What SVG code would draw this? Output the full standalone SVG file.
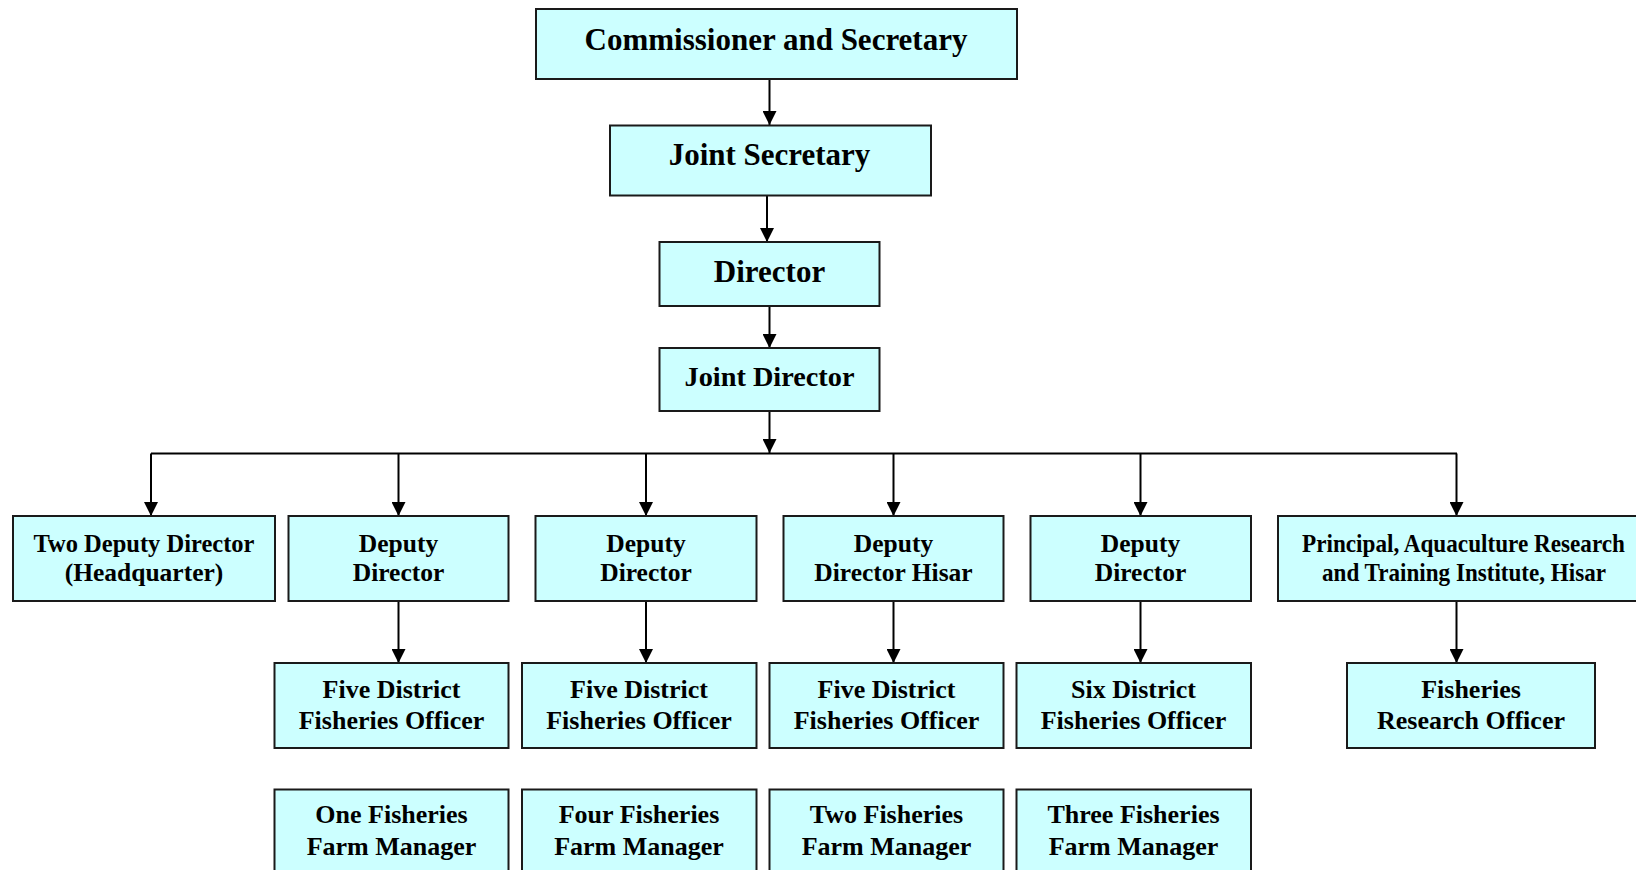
<svg xmlns="http://www.w3.org/2000/svg" width="1636" height="870" viewBox="0 0 1636 870">
<style>
.box{fill:#CCFFFF;stroke:#1a1a1a;stroke-width:2}
.t{font-family:"Liberation Serif","Times New Roman",serif;font-weight:bold;fill:#000;text-anchor:middle}
.c{fill:none;stroke:#000;stroke-width:2}
</style>
<defs>
<marker id="ah" markerUnits="userSpaceOnUse" markerWidth="14" markerHeight="14" refX="14" refY="7" orient="auto">
<path d="M0,0 L14,7 L0,14 z" fill="#000"/>
</marker>
</defs>
<rect width="1636" height="870" fill="#fff"/>
<g id="connectors">
<line class="c" x1="769.5" y1="79" x2="769.5" y2="125" marker-end="url(#ah)"/>
<line class="c" x1="767" y1="196" x2="767" y2="242" marker-end="url(#ah)"/>
<line class="c" x1="769.5" y1="306" x2="769.5" y2="348" marker-end="url(#ah)"/>
<line class="c" x1="769.5" y1="411" x2="769.5" y2="453" marker-end="url(#ah)"/>
<line class="c" x1="151" y1="453.5" x2="1457" y2="453.5"/>
<line class="c" x1="151" y1="453.5" x2="151" y2="516" marker-end="url(#ah)"/>
<line class="c" x1="398.5" y1="453.5" x2="398.5" y2="516" marker-end="url(#ah)"/>
<line class="c" x1="646" y1="453.5" x2="646" y2="516" marker-end="url(#ah)"/>
<line class="c" x1="893.5" y1="453.5" x2="893.5" y2="516" marker-end="url(#ah)"/>
<line class="c" x1="1140.5" y1="453.5" x2="1140.5" y2="516" marker-end="url(#ah)"/>
<line class="c" x1="1456.5" y1="453.5" x2="1456.5" y2="516" marker-end="url(#ah)"/>
<line class="c" x1="398.5" y1="601" x2="398.5" y2="663" marker-end="url(#ah)"/>
<line class="c" x1="646" y1="601" x2="646" y2="663" marker-end="url(#ah)"/>
<line class="c" x1="893.5" y1="601" x2="893.5" y2="663" marker-end="url(#ah)"/>
<line class="c" x1="1140.5" y1="601" x2="1140.5" y2="663" marker-end="url(#ah)"/>
<line class="c" x1="1456.5" y1="601" x2="1456.5" y2="663" marker-end="url(#ah)"/>
</g>
<g id="commissioner">
<rect class="box" x="536" y="9" width="481" height="70"/>
<text class="t" x="776" y="50" font-size="31">Commissioner and Secretary</text>
</g>
<g id="joint-secretary">
<rect class="box" x="610" y="125.5" width="321" height="70"/>
<text class="t" x="769.5" y="165" font-size="31">Joint Secretary</text>
</g>
<g id="director">
<rect class="box" x="659.5" y="242" width="220" height="64"/>
<text class="t" x="769.5" y="281.5" font-size="31">Director</text>
</g>
<g id="joint-director">
<rect class="box" x="659.5" y="348" width="220" height="63"/>
<text class="t" x="769.5" y="386" font-size="28.3">Joint Director</text>
</g>
<g id="dd-hq">
<rect class="box" x="13" y="516" width="262" height="85"/>
<text class="t" x="144" y="551.5" font-size="25.5" textLength="221" lengthAdjust="spacingAndGlyphs">Two Deputy Director</text>
<text class="t" x="144" y="580.5" font-size="25.5">(Headquarter)</text>
</g>
<g id="dd1">
<rect class="box" x="288.5" y="516" width="220" height="85"/>
<text class="t" x="398.5" y="551.5" font-size="25.5">Deputy</text>
<text class="t" x="398.5" y="580.5" font-size="25.5">Director</text>
</g>
<g id="dd2">
<rect class="box" x="535.5" y="516" width="221" height="85"/>
<text class="t" x="646" y="551.5" font-size="25.5">Deputy</text>
<text class="t" x="646" y="580.5" font-size="25.5">Director</text>
</g>
<g id="dd-hisar">
<rect class="box" x="783.5" y="516" width="220" height="85"/>
<text class="t" x="893.5" y="551.5" font-size="25.5">Deputy</text>
<text class="t" x="893.5" y="580.5" font-size="25.5">Director Hisar</text>
</g>
<g id="dd4">
<rect class="box" x="1030.5" y="516" width="220.5" height="85"/>
<text class="t" x="1140.5" y="551.5" font-size="25.5">Deputy</text>
<text class="t" x="1140.5" y="580.5" font-size="25.5">Director</text>
</g>
<g id="principal">
<rect class="box" x="1278" y="516" width="372" height="85"/>
<text class="t" x="1463.5" y="551.5" font-size="25.5" textLength="323" lengthAdjust="spacingAndGlyphs">Principal, Aquaculture Research</text>
<text class="t" x="1464" y="580.5" font-size="25.5" textLength="284" lengthAdjust="spacingAndGlyphs">and Training Institute, Hisar</text>
</g>
<g id="dfo1">
<rect class="box" x="274.5" y="663" width="234" height="85"/>
<text class="t" x="391.5" y="697.5" font-size="26">Five District</text>
<text class="t" x="391.5" y="728.5" font-size="26">Fisheries Officer</text>
</g>
<g id="dfo2">
<rect class="box" x="522" y="663" width="234.5" height="85"/>
<text class="t" x="639" y="697.5" font-size="26">Five District</text>
<text class="t" x="639" y="728.5" font-size="26">Fisheries Officer</text>
</g>
<g id="dfo3">
<rect class="box" x="769.5" y="663" width="234" height="85"/>
<text class="t" x="886.5" y="697.5" font-size="26">Five District</text>
<text class="t" x="886.5" y="728.5" font-size="26">Fisheries Officer</text>
</g>
<g id="dfo4">
<rect class="box" x="1016.5" y="663" width="234.5" height="85"/>
<text class="t" x="1133.5" y="697.5" font-size="26">Six District</text>
<text class="t" x="1133.5" y="728.5" font-size="26">Fisheries Officer</text>
</g>
<g id="fro">
<rect class="box" x="1347" y="663" width="248" height="85"/>
<text class="t" x="1471" y="697.5" font-size="26">Fisheries</text>
<text class="t" x="1471" y="728.5" font-size="26">Research Officer</text>
</g>
<g id="fm1">
<rect class="box" x="274.5" y="789.5" width="234" height="95"/>
<text class="t" x="391.5" y="822.5" font-size="26">One Fisheries</text>
<text class="t" x="391.5" y="854.5" font-size="26">Farm Manager</text>
</g>
<g id="fm2">
<rect class="box" x="522" y="789.5" width="234.5" height="95"/>
<text class="t" x="639" y="822.5" font-size="26">Four Fisheries</text>
<text class="t" x="639" y="854.5" font-size="26">Farm Manager</text>
</g>
<g id="fm3">
<rect class="box" x="769.5" y="789.5" width="234" height="95"/>
<text class="t" x="886.5" y="822.5" font-size="26">Two Fisheries</text>
<text class="t" x="886.5" y="854.5" font-size="26">Farm Manager</text>
</g>
<g id="fm4">
<rect class="box" x="1016.5" y="789.5" width="234.5" height="95"/>
<text class="t" x="1133.5" y="822.5" font-size="26">Three Fisheries</text>
<text class="t" x="1133.5" y="854.5" font-size="26">Farm Manager</text>
</g>
</svg>
